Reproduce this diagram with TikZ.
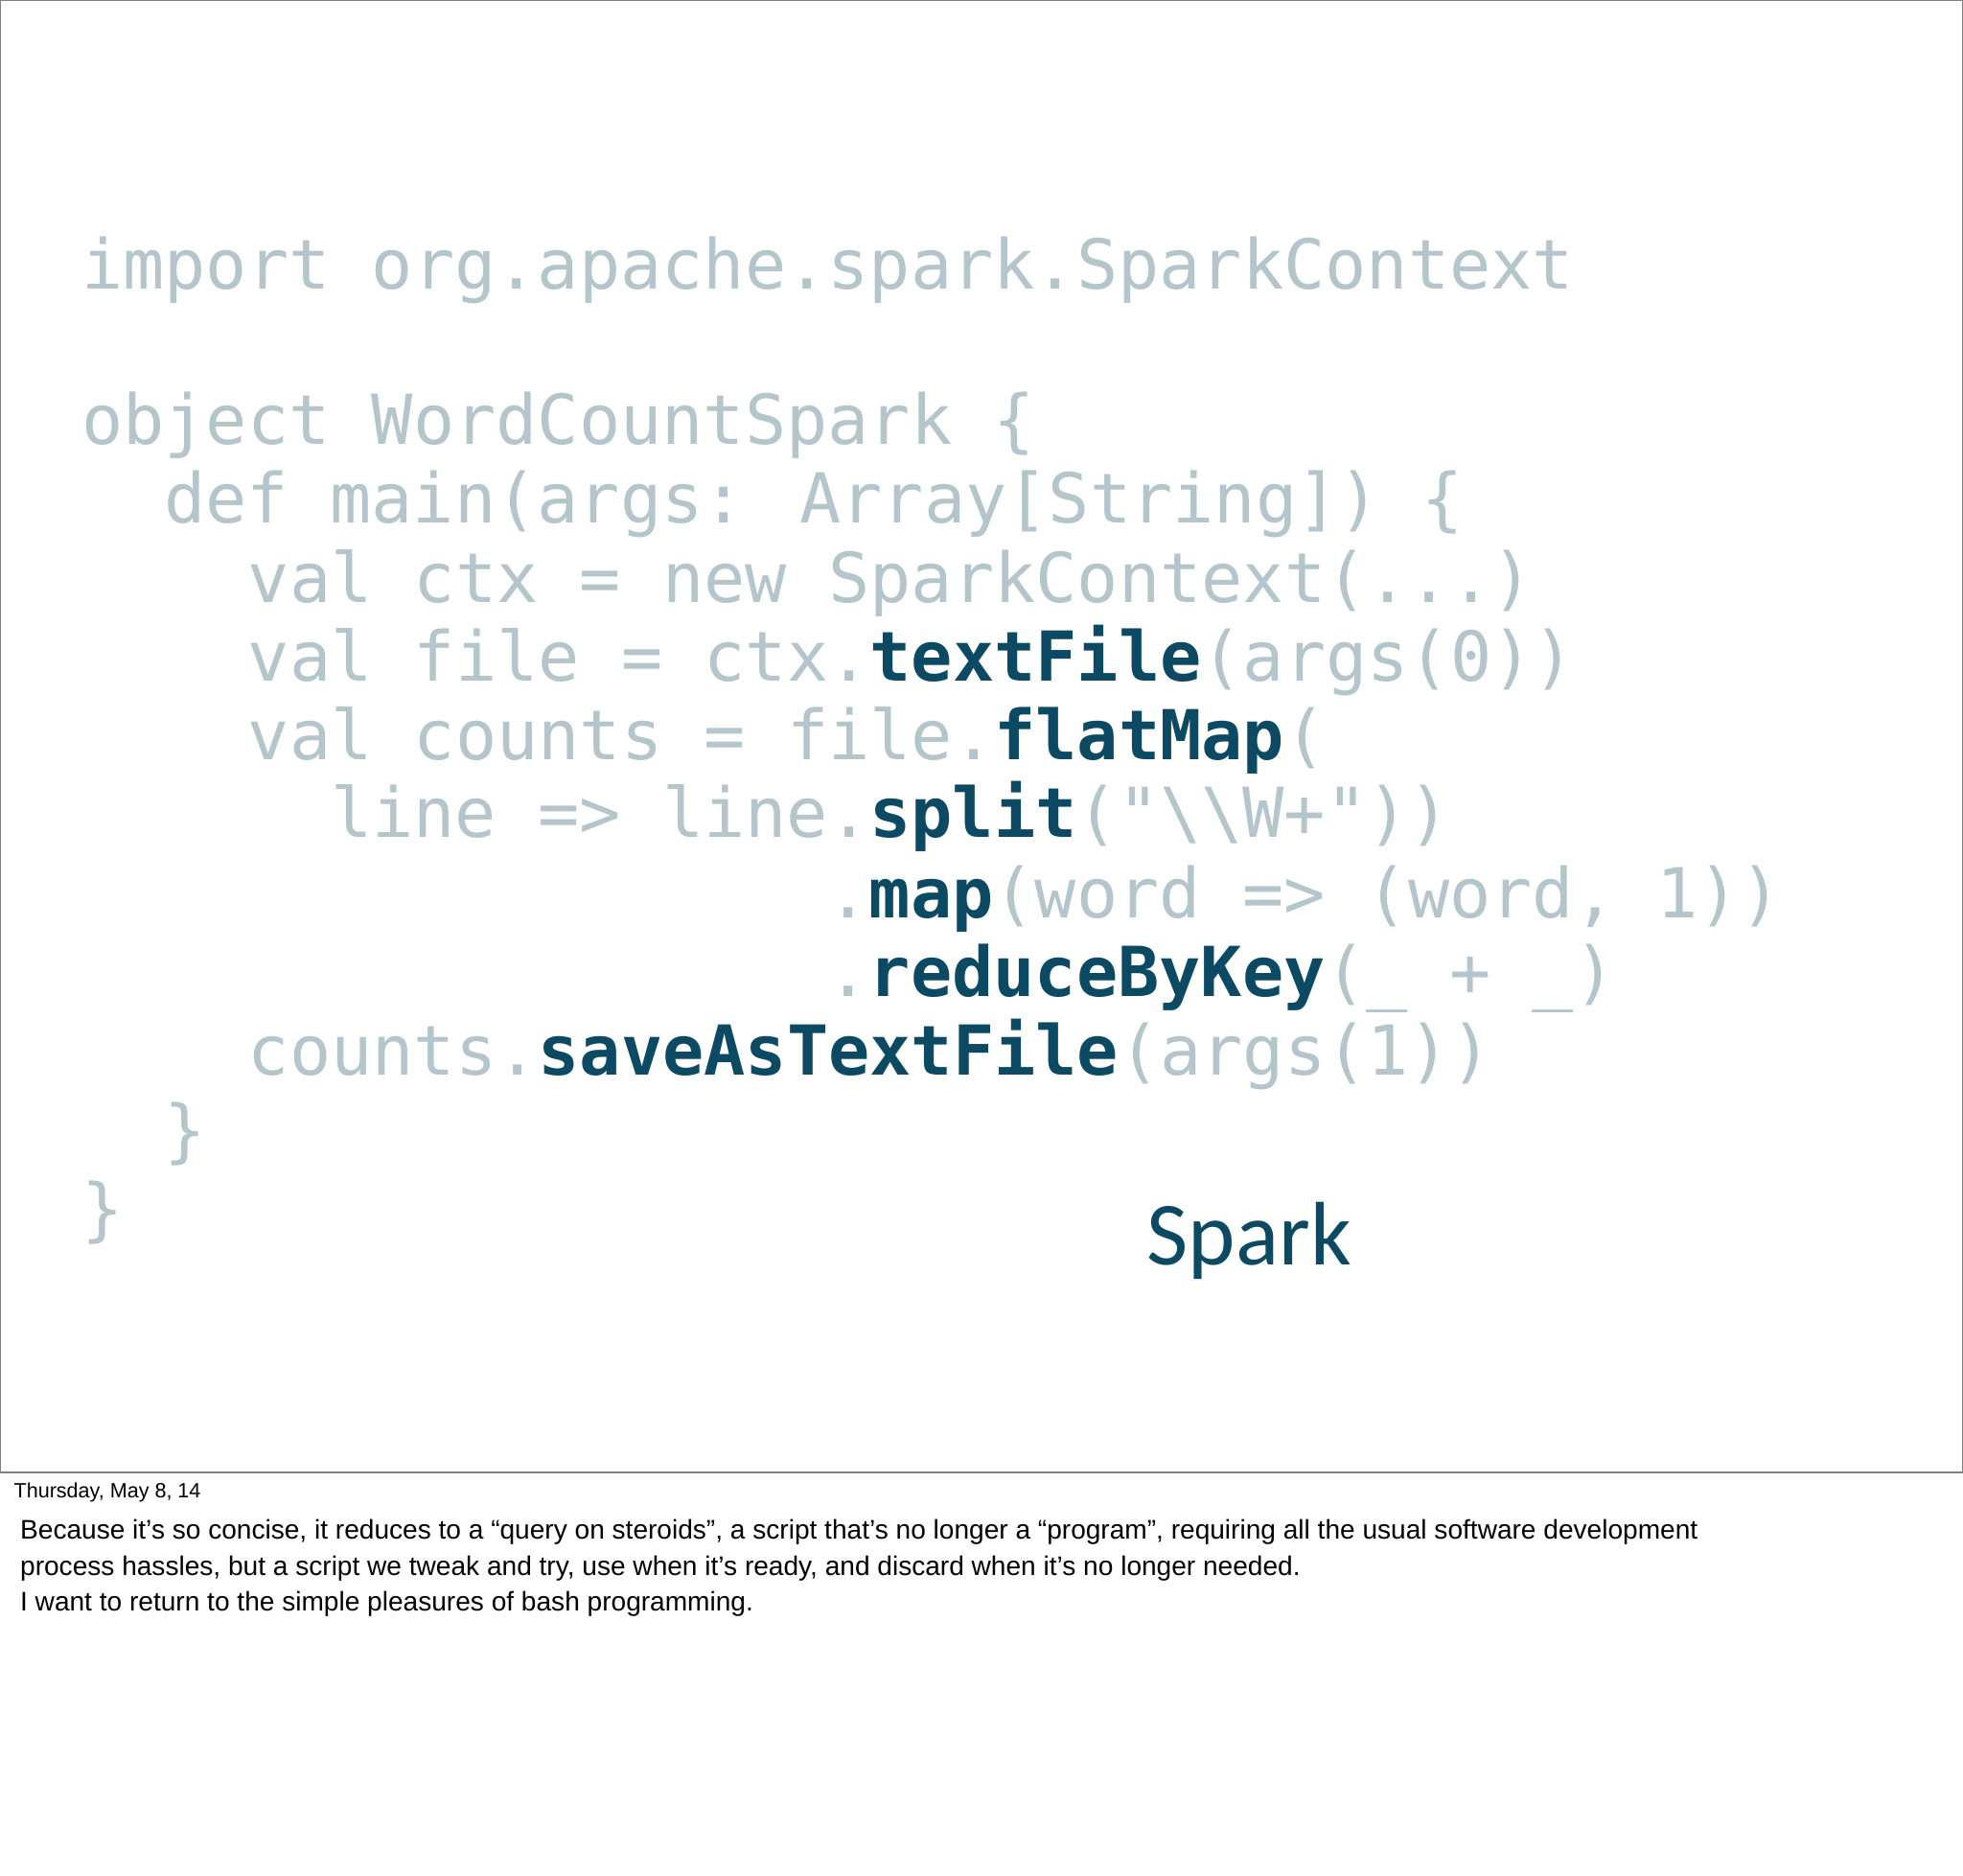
\documentclass[tikz,border=0pt]{standalone}
\usepackage{fontspec}
\newfontfamily\codefont{DejaVu Sans Mono}
\newfontfamily\sparkfont{Carlito}
\newfontfamily\notefont{Liberation Sans}
\definecolor{lite}{HTML}{B4C6CC}
\definecolor{dark}{HTML}{0B4A62}
\newcommand{\hl}[1]{\textcolor{dark}{\bfseries #1}}
\begin{document}
\begin{tikzpicture}[x=1pt,y=-1pt,
  code/.style={anchor=base west,inner sep=0pt,text=lite,font=\codefont\fontsize{55}{55}\selectfont},
  note/.style={anchor=base west,inner sep=0pt,font=\notefont\fontsize{21.5}{26}\selectfont}]
\useasboundingbox (0,0) rectangle (1568,1497.6);
\fill[white] (0,0) rectangle (1568,1497.6);
\draw[gray,line width=1] (0.5,0.5) rectangle (1567.5,1176);
\node[code] (l1) at (65,231) {import org.apache.spark.SparkContext};
\node[code] (l2) at (65,355) {object WordCountSpark \{};
\node[code] (l3) at (131,418) {def main(args: Array[String]) \{};
\node[code] (l4) at (198,481) {val ctx = new SparkContext(...)};
\node[code] (l5) at (198,544) {val file = ctx.\hl{textFile}(args(0))};
\node[code] (l6) at (198,607) {val counts = file.\hl{flatMap}(};
\node[code] (l7) at (264,669) {line => line.\hl{split}("\textbackslash\textbackslash W+"))};
\node[code] (l8) at (661,733) {.\hl{map}(word => (word, 1))};
\node[code] (l9) at (661,796) {.\hl{reduceByKey}(\_ + \_)};
\node[code] (l10) at (198,859) {counts.\hl{saveAsTextFile}(args(1))};
\node[code] (l11) at (131,922) {\}};
\node[code] (l12) at (65,985) {\}};
\node[anchor=base west,inner sep=0pt,text=dark,font=\sparkfont\fontsize{72}{72}\selectfont] (sp) at (916,1010) {Spark};
\node[note,font=\notefont\fontsize{16.5}{20}\selectfont] (d) at (11,1196) {Thursday, May 8, 14};
\node[note] (n1) at (16,1229) {Because it’s so concise, it reduces to a “query on steroids”, a script that’s no longer a “program”, requiring all the usual software development};
\node[note] (n2) at (16,1258) {process hassles, but a script we tweak and try, use when it’s ready, and discard when it’s no longer needed.};
\node[note] (n3) at (16,1287) {I want to return to the simple pleasures of bash programming.};
\end{tikzpicture}
\end{document}
